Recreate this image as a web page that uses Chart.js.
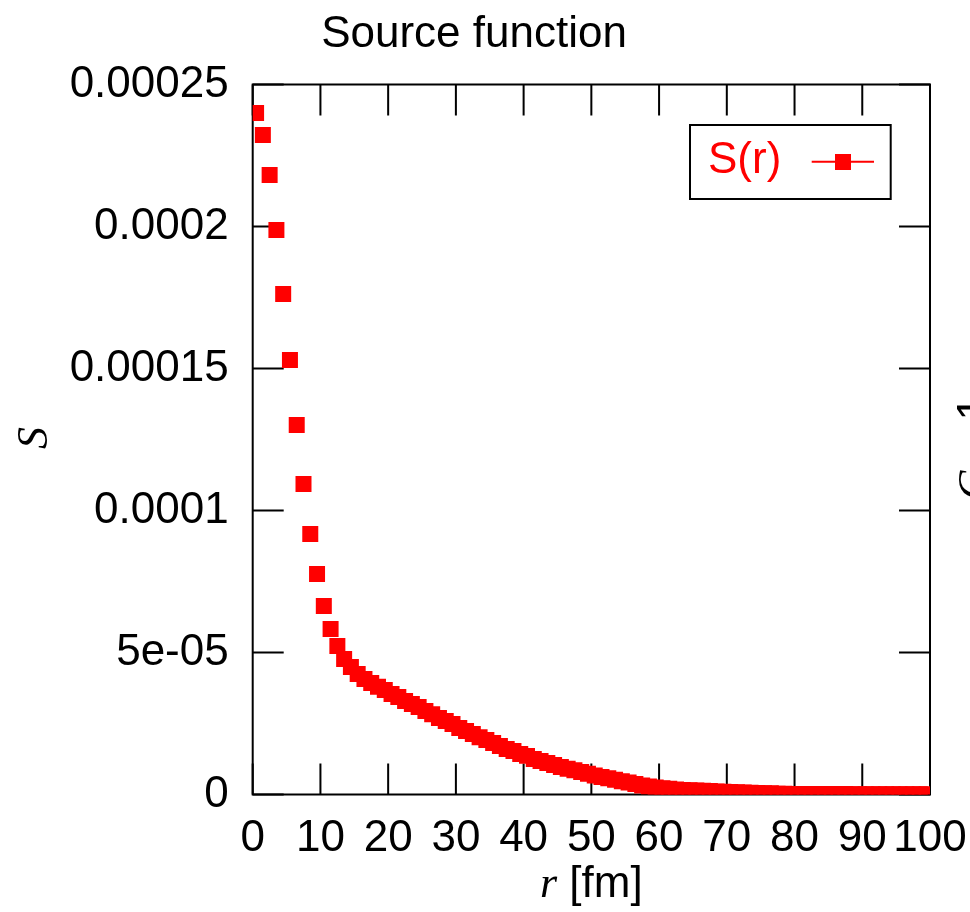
<!DOCTYPE html>
<html>
<head>
<meta charset="utf-8">
<script src="https://cdn.jsdelivr.net/npm/chart.js@4.4.1/dist/chart.umd.min.js"></script>
<style>
  html, body { margin: 0; padding: 0; background: #ffffff; }
  #wrap { width: 970px; height: 912px; position: relative; }
</style>
</head>
<body>
<div id="wrap"><canvas id="c" width="970" height="912"></canvas></div>
<script>
// ---- data ----
const rValues = [
  0.5, 1.5, 2.5, 3.5, 4.5, 5.5, 6.5, 7.5, 8.5, 9.5,
  10.5, 11.5, 12.5, 13.5, 14.5, 15.5, 16.5, 17.5, 18.5, 19.5,
  20.5, 21.5, 22.5, 23.5, 24.5, 25.5, 26.5, 27.5, 28.5, 29.5,
  30.5, 31.5, 32.5, 33.5, 34.5, 35.5, 36.5, 37.5, 38.5, 39.5,
  40.5, 41.5, 42.5, 43.5, 44.5, 45.5, 46.5, 47.5, 48.5, 49.5,
  50.5, 51.5, 52.5, 53.5, 54.5, 55.5, 56.5, 57.5, 58.5, 59.5,
  60.5, 61.5, 62.5, 63.5, 64.5, 65.5, 66.5, 67.5, 68.5, 69.5,
  70.5, 71.5, 72.5, 73.5, 74.5, 75.5, 76.5, 77.5, 78.5, 79.5,
  80.5, 81.5, 82.5, 83.5, 84.5, 85.5, 86.5, 87.5, 88.5, 89.5,
  90.5, 91.5, 92.5, 93.5, 94.5, 95.5, 96.5, 97.5, 98.5, 99.5
];
const sValues = [
  24.00e-5, 23.22e-5, 21.81e-5, 19.88e-5, 17.62e-5, 15.30e-5, 13.01e-5, 10.93e-5, 9.17e-5, 7.76e-5,
  6.64e-5, 5.83e-5, 5.23e-5, 4.77e-5, 4.49e-5, 4.24e-5, 4.07e-5, 3.93e-5, 3.79e-5, 3.68e-5,
  3.54e-5, 3.43e-5, 3.29e-5, 3.19e-5, 3.08e-5, 2.94e-5, 2.83e-5, 2.69e-5, 2.59e-5, 2.48e-5,
  2.34e-5, 2.24e-5, 2.13e-5, 2.02e-5, 1.92e-5, 1.81e-5, 1.71e-5, 1.60e-5, 1.53e-5, 1.43e-5,
  1.36e-5, 1.25e-5, 1.18e-5, 1.11e-5, 1.04e-5, 0.97e-5, 0.91e-5, 0.85e-5, 0.79e-5, 0.73e-5,
  0.67e-5, 0.62e-5, 0.57e-5, 0.52e-5, 0.47e-5, 0.42e-5, 0.37e-5, 0.32e-5, 0.28e-5, 0.25e-5,
  0.22e-5, 0.20e-5, 0.18e-5, 0.16e-5, 0.15e-5, 0.14e-5, 0.13e-5, 0.12e-5, 0.11e-5, 0.10e-5,
  0.09e-5, 0.08e-5, 0.07e-5, 0.06e-5, 0.05e-5, 0.04e-5, 0.04e-5, 0.03e-5, 0.03e-5, 0.02e-5,
  0.02e-5, 0.02e-5, 0.02e-5, 0.02e-5, 0.015e-5, 0.015e-5, 0.015e-5, 0.015e-5, 0.01e-5, 0.01e-5,
  0.01e-5, 0.01e-5, 0.01e-5, 0.01e-5, 0.01e-5, 0.01e-5, 0.01e-5, 0.01e-5, 0.01e-5, 0.01e-5
];
const xTickValues = [0, 10, 20, 30, 40, 50, 60, 70, 80, 90, 100];
const xTickLabels = ["0", "10", "20", "30", "40", "50", "60", "70", "80", "90", "100"];
const yTickValues = [0, 0.00005, 0.0001, 0.00015, 0.0002, 0.00025];
const yTickLabels = ["0", "5e-05", "0.0001", "0.00015", "0.0002", "0.00025"];
const seriesLabel = "S(r)";
const titleText = "Source function";

// ---- styles ----
const SANS = '"Liberation Sans", Arial, Helvetica, sans-serif';
const SERIF = '"Liberation Serif", "Times New Roman", serif';
const FS = 44;
const RED = '#ff0000';
const TICK_LEN = 31;

const framePlugin = {
  id: 'frame',
  beforeDatasetsDraw(chart) {
    const { ctx, chartArea: a, scales } = chart;
    ctx.save();
    ctx.strokeStyle = '#000';
    ctx.lineWidth = 2;
    ctx.beginPath();
    xTickValues.forEach(v => {
      const px = scales.x.getPixelForValue(v);
      ctx.moveTo(px, a.bottom); ctx.lineTo(px, a.bottom - TICK_LEN);
      ctx.moveTo(px, a.top); ctx.lineTo(px, a.top + TICK_LEN);
    });
    yTickValues.forEach(v => {
      const py = scales.y.getPixelForValue(v);
      ctx.moveTo(a.left, py); ctx.lineTo(a.left + TICK_LEN, py);
      ctx.moveTo(a.right, py); ctx.lineTo(a.right - TICK_LEN, py);
    });
    ctx.stroke();
    ctx.strokeRect(a.left, a.top, a.right - a.left, a.bottom - a.top);
    ctx.restore();
  },
  afterDraw(chart) {
    const { ctx, chartArea: a } = chart;
    ctx.save();
    // title
    ctx.fillStyle = '#000';
    ctx.font = FS + 'px ' + SANS;
    ctx.textAlign = 'center';
    ctx.textBaseline = 'alphabetic';
    ctx.fillText(titleText, 474, 46.7);

    // x axis title: italic r + " [fm]"
    const cx = (a.left + a.right) / 2;
    ctx.font = 'italic ' + FS + 'px ' + SERIF;
    const wR = ctx.measureText('r').width;
    ctx.font = FS + 'px ' + SANS;
    const wF = ctx.measureText(' [fm]').width;
    let sx = cx - (wR + wF) / 2;
    ctx.textAlign = 'left';
    ctx.font = 'italic ' + FS + 'px ' + SERIF;
    ctx.fillText('r', sx, 897);
    ctx.font = FS + 'px ' + SANS;
    ctx.fillText(' [fm]', sx + wR, 897);

    // y axis title: italic S rotated
    ctx.save();
    ctx.translate(47, 438);
    ctx.rotate(-Math.PI / 2);
    ctx.font = 'italic ' + FS + 'px ' + SERIF;
    ctx.textAlign = 'center';
    ctx.fillText('S', 0, 0);
    ctx.restore();

    // fragment of neighbouring plot's y title
    ctx.save();
    ctx.translate(988, 500);
    ctx.rotate(-Math.PI / 2);
    ctx.textAlign = 'left';
    ctx.font = 'italic ' + FS + 'px ' + SERIF;
    ctx.fillText('C', 0, 0);
    const wC = ctx.measureText('C').width;
    ctx.font = FS + 'px ' + SANS;
    ctx.fillText(' \u2212 1', wC, 0);
    ctx.restore();

    // legend
    ctx.fillStyle = '#fff';
    ctx.fillRect(690, 125, 200.7, 74);
    ctx.strokeStyle = '#000';
    ctx.lineWidth = 2;
    ctx.strokeRect(690, 125, 200.7, 74);
    ctx.fillStyle = RED;
    ctx.font = FS + 'px ' + SANS;
    ctx.textAlign = 'left';
    ctx.fillText(seriesLabel, 708, 173.3);
    ctx.strokeStyle = RED;
    ctx.lineWidth = 2;
    ctx.beginPath();
    ctx.moveTo(811.7, 161.7); ctx.lineTo(874, 161.7);
    ctx.stroke();
    ctx.fillRect(835, 154, 16, 16);
    ctx.restore();
  }
};

const points = rValues.map((r, i) => ({ x: r, y: sValues[i] }));

new Chart(document.getElementById('c'), {
  type: 'scatter',
  data: {
    datasets: [{
      label: seriesLabel,
      data: points,
      showLine: false,
      pointStyle: 'rect',
      pointRadius: 11.31,
      pointHoverRadius: 11.31,
      pointBorderWidth: 0,
      borderWidth: 0,
      backgroundColor: RED,
      borderColor: RED,
      clip: 0
    }]
  },
  options: {
    responsive: false,
    animation: false,
    events: [],
    layout: { padding: { left: 0, right: 40, top: 84.5, bottom: 0 } },
    plugins: {
      legend: { display: false },
      title: { display: false },
      tooltip: { enabled: false }
    },
    scales: {
      x: {
        type: 'linear',
        min: 0, max: 100,
        grid: { display: false, drawTicks: false },
        border: { display: false },
        afterBuildTicks(s) { s.ticks = xTickValues.map(v => ({ value: v })); },
        afterFit(s) { s.height = 117.5; s.paddingLeft = 0; s.paddingRight = 0; },
        ticks: {
          autoSkip: false,
          maxRotation: 0,
          minRotation: 0,
          padding: 18,
          color: '#000',
          font: { family: SANS, size: FS },
          callback: (v) => { const i = xTickValues.indexOf(v); return i >= 0 ? xTickLabels[i] : ''; }
        }
      },
      y: {
        type: 'linear',
        min: 0, max: 0.00025,
        grid: { display: false, drawTicks: false },
        border: { display: false },
        afterBuildTicks(s) { s.ticks = yTickValues.map(v => ({ value: v })); },
        afterFit(s) { s.width = 252.7; s.paddingTop = 0; s.paddingBottom = 0; },
        ticks: {
          autoSkip: false,
          padding: 24,
          color: '#000',
          font: { family: SANS, size: FS },
          callback: (v) => {
            let best = 0, d = Infinity;
            yTickValues.forEach((t, i) => { if (Math.abs(t - v) < d) { d = Math.abs(t - v); best = i; } });
            return yTickLabels[best];
          }
        }
      }
    }
  },
  plugins: [framePlugin]
});
</script>
</body>
</html>
